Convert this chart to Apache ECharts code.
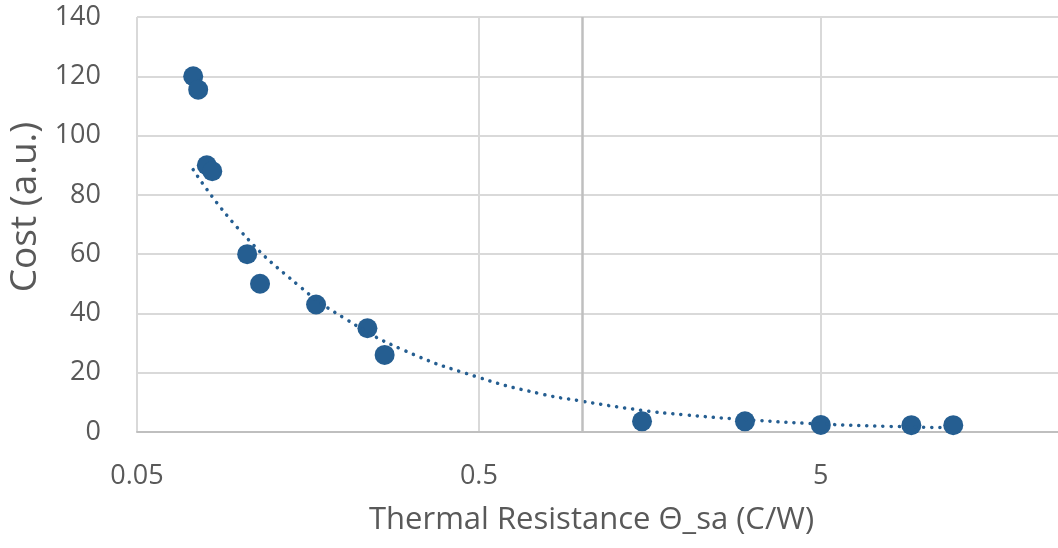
<!DOCTYPE html>
<html><head><meta charset="utf-8">
<script src="https://cdn.jsdelivr.net/npm/echarts@6/dist/echarts.min.js"></script>
<style>html,body{margin:0;padding:0;background:#fff;}#c{width:1058px;height:548px;}</style>
</head><body><div id="c"></div>
<script>
// Scatter data
const thermalResistance = [0.073, 0.0755, 0.080, 0.083, 0.105, 0.1145, 0.167, 0.236, 0.265, 1.5, 3.0, 5.0, 9.2, 12.2];
const cost = [120, 115.5, 90, 88, 60, 50, 43, 35, 26, 3.6, 3.6, 2.4, 2.3, 2.3];
// Dotted trendline
const trendX = [0.073, 0.1, 0.15, 0.2, 0.3, 0.5, 0.75, 1, 1.5, 2, 3, 5, 8, 12.2];
const trendY = [88.5, 68, 49, 38.7, 27.7, 18.4, 13, 10.4, 7.3, 5.8, 4.2, 2.7, 1.9, 1.4];
// Axes
const xMin = 0.05, xMax = 24.7;          // visible range of the (cropped) log axis
const xTickValues = [0.05, 0.5, 5];
const yMin = 0, yMax = 140, yStep = 20;
const yAxisCrossAt = 1;
const xAxisTitle = 'Thermal Resistance \u0398_sa (C/W)';
const yAxisTitle = 'Cost (a.u.)';

const FONT = '"Open Sans", "Noto Sans", sans-serif';
const TXT = '#595959';
const BLUE = '#255e91';

const chart = echarts.init(document.getElementById('c'), null, {renderer: 'canvas'});
chart.setOption({
  animation: false,
  backgroundColor: '#ffffff',
  grid: {left: 137, top: 17, right: 0, bottom: 116, containLabel: false},
  xAxis: {
    type: 'log', logBase: 10, min: xMin, max: xMax,
    axisLine: {show: true, lineStyle: {color: '#bfbfbf', width: 2}},
    axisTick: {show: false, customValues: xTickValues},
    axisLabel: {customValues: xTickValues, margin: 31, color: TXT, fontFamily: FONT, fontSize: 27,
      formatter: v => String(+(+v).toPrecision(6))},
    splitLine: {show: true, lineStyle: {color: '#d9d9d9', width: 2}}
  },
  yAxis: {
    type: 'value', min: yMin, max: yMax, interval: yStep,
    axisLine: {show: false}, axisTick: {show: false},
    axisLabel: {margin: 36, color: TXT, fontFamily: FONT, fontSize: 27},
    splitLine: {show: true, lineStyle: {color: '#d9d9d9', width: 2}}
  },
  graphic: [
    {type: 'text', left: 599 - 230, top: 505, style: {text: xAxisTitle, fill: TXT, font: '31px ' + FONT}},
    {type: 'text', x: 7, y: 207, rotation: Math.PI / 2, style: {text: yAxisTitle, fill: TXT, font: '37px ' + FONT, align: 'center', verticalAlign: 'top'}}
  ],
  series: [
    {
      type: 'line', data: [], z: 1, silent: true,
      markLine: {silent: true, symbol: 'none', label: {show: false},
        lineStyle: {color: '#bfbfbf', width: 2.5, type: 'solid'},
        data: [{xAxis: yAxisCrossAt}]}
    },
    {
      type: 'scatter', z: 3, symbol: 'circle', symbolSize: 20,
      itemStyle: {color: BLUE, opacity: 1},
      data: thermalResistance.map((x, i) => [x, cost[i]])
    },
    {
      type: 'line', z: 4, symbol: 'none', smooth: true, silent: true,
      lineStyle: {color: BLUE, width: 3.5, type: [0.1, 8], cap: 'round'},
      data: trendX.map((x, i) => [x, trendY[i]])
    }
  ]
});
</script></body></html>
